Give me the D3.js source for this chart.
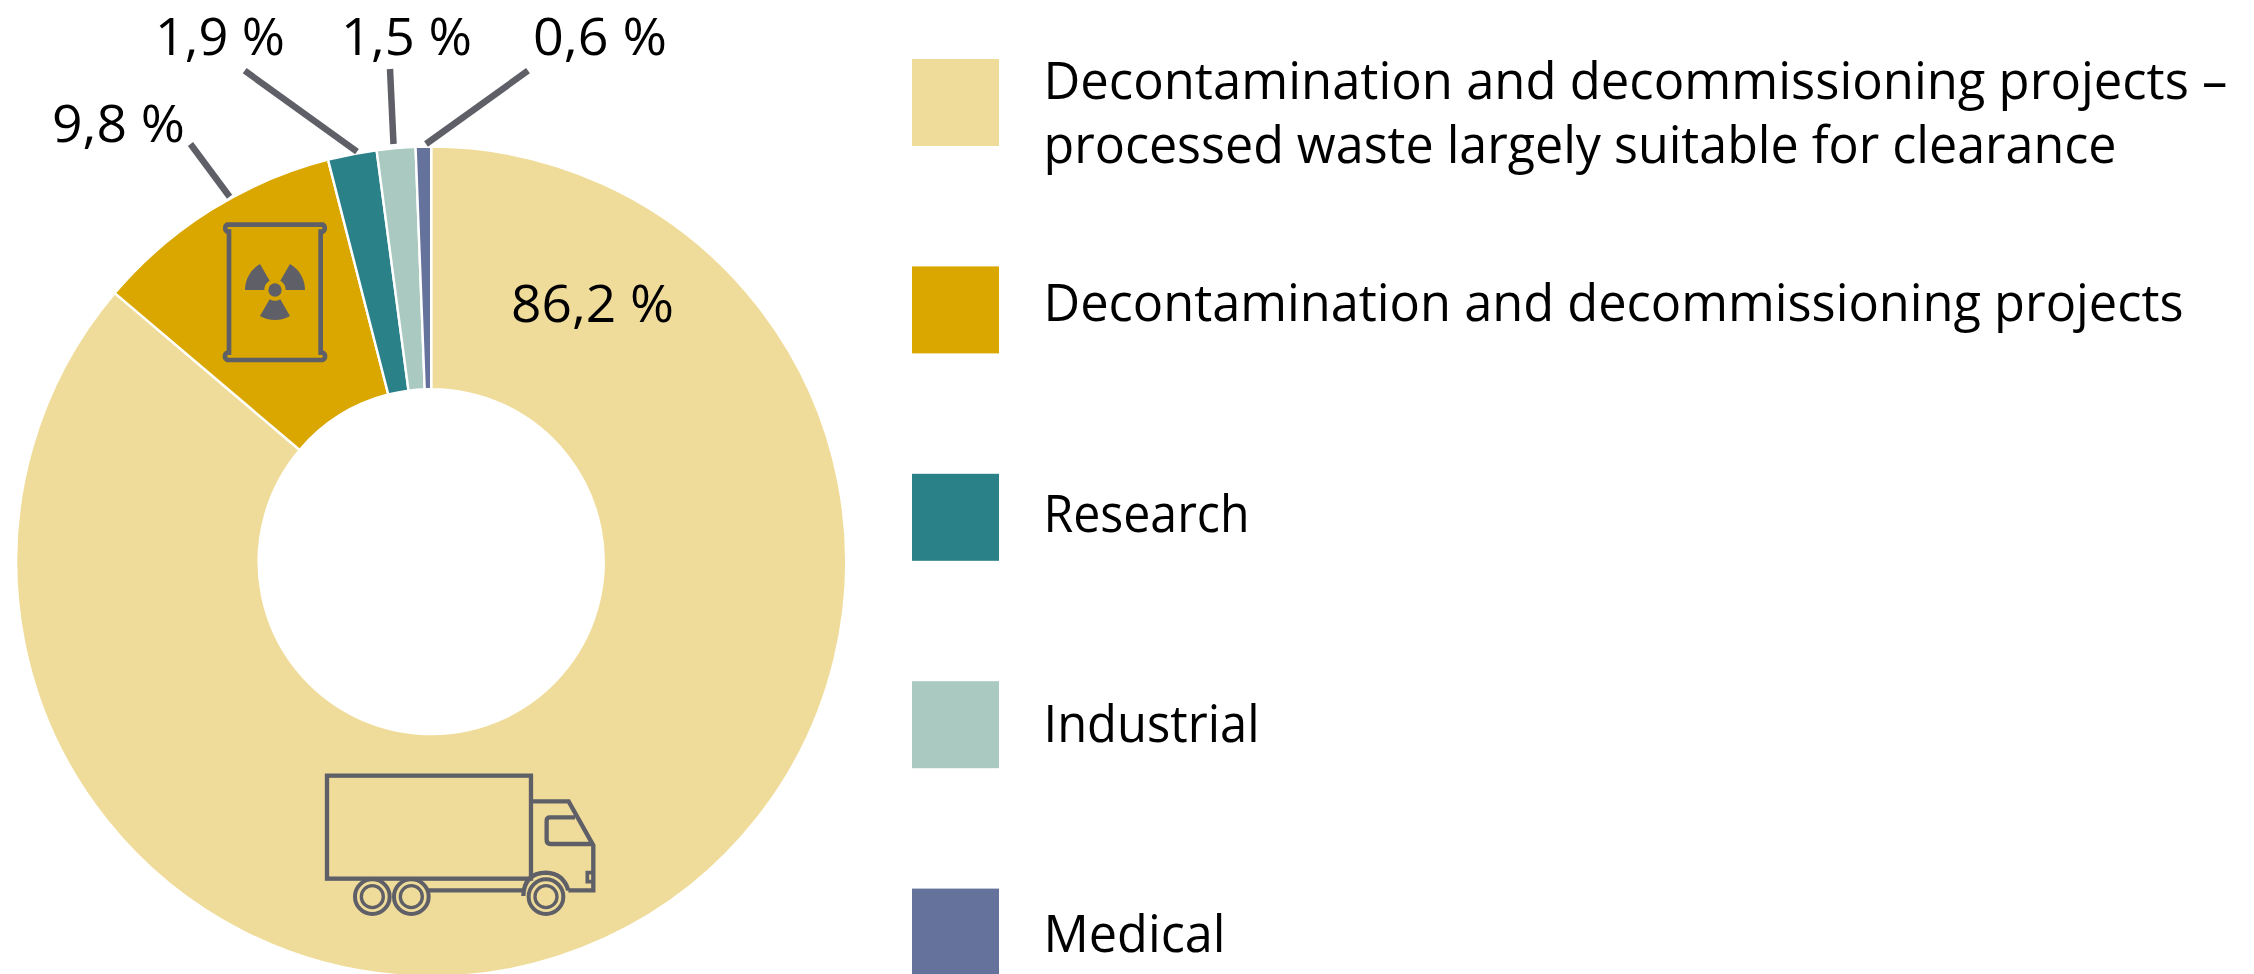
<!DOCTYPE html>
<html><head><meta charset="utf-8">
<script src="https://cdn.jsdelivr.net/npm/d3@7"></script>
<style>html,body{margin:0;padding:0;background:#fff;overflow:hidden}svg{display:block}text{font-family:"Open Sans",sans-serif;fill:#000}</style>
</head><body><script>
const categories = ["Decontamination and decommissioning projects – processed waste largely suitable for clearance","Decontamination and decommissioning projects","Research","Industrial","Medical"];
const legendLines = [["Decontamination and decommissioning projects –","processed waste largely suitable for clearance"],["Decontamination and decommissioning projects"],["Research"],["Industrial"],["Medical"]];
const values = [86.2, 9.8, 1.9, 1.5, 0.6];
const valueLabels = ["86,2 %","9,8 %","1,9 %","1,5 %","0,6 %"];
const colors = ["#F0DC9A","#D9A700","#2A8288","#A9C9C1","#64729C"];

const W=2254,H=974,cx=431.2,cy=561.6,R=415,r=172.5,gray="#5F5F67",FS=51,LFS=51;
const svg=d3.select("body").append("svg").attr("width",W).attr("height",H);
const pie=d3.pie().sort(null).value(d=>d)(values);
const arc=d3.arc().innerRadius(r).outerRadius(R);
const g=svg.append("g").attr("transform",`translate(${cx},${cy})`);
g.selectAll("path").data(pie).join("path").attr("d",arc).attr("fill",(d,i)=>colors[i]).attr("stroke","#fff").attr("stroke-width",2.4);

// value labels and leaders
const labelPos=[{x:511,y:322,w:163},{x:52,y:142,w:133},{x:155,y:55,w:130},{x:341,y:55,w:131},{x:533,y:55,w:134}];
const leaders=[null,[190.5,144,229.6,196.7],[244.7,70.7,357,151.7],[390,69,393.5,144],[528,70.7,426,144]];
svg.selectAll("line.leader").data(leaders.filter(Boolean)).join("line").attr("class","leader")
  .attr("x1",d=>d[0]).attr("y1",d=>d[1]).attr("x2",d=>d[2]).attr("y2",d=>d[3])
  .attr("stroke",gray).attr("stroke-width",6.5);
svg.selectAll("text.val").data(valueLabels).join("text").attr("class","val")
  .attr("x",(d,i)=>labelPos[i].x).attr("y",(d,i)=>labelPos[i].y).attr("font-size",FS)
  .attr("textLength",(d,i)=>labelPos[i].w).attr("lengthAdjust","spacingAndGlyphs").text(d=>d);

// legend
const legendTop=59,legendStep=207.4,sw=87;
const lg=svg.selectAll("g.lg").data(categories).join("g").attr("class","lg");
lg.append("rect").attr("x",912).attr("y",(d,i)=>legendTop+i*legendStep).attr("width",sw).attr("height",sw).attr("fill",(d,i)=>colors[i]);
const base=[99,321,532,742,952];
const lineW=[[1184,1073],[1140],[206],[216],[182]];
lg.each(function(d,i){
  d3.select(this).selectAll("text").data(legendLines[i]).join("text")
    .attr("x",1043.5).attr("y",(t,j)=>base[i]+j*64).attr("font-size",LFS)
    .attr("textLength",(t,j)=>lineW[i][j]).attr("lengthAdjust","spacingAndGlyphs").text(t=>t);
});

// truck icon
const t=svg.append("g").attr("transform","translate(300,740) scale(0.3333)").attr("fill","none").attr("stroke",gray).attr("stroke-width",13);
t.append("rect").attr("x",81).attr("y",107).attr("width",612).attr("height",309);
t.append("path").attr("d","M693,184H806L880,316V451H805M670,451H385M825,232H750Q740,232 740,242V300Q740,312 752,312H878");
t.append("path").attr("d","M670,468Q672,400 738,398Q790,400 805,451");
t.append("path").attr("stroke-width",11).attr("d","M880,398H862V425H880");
[217,334,738].forEach(x=>{
  t.append("circle").attr("cx",x).attr("cy",470).attr("r",52).attr("stroke-width",12);
  t.append("circle").attr("cx",x).attr("cy",470).attr("r",33).attr("stroke-width",10);
});

// barrel icon
const b=svg.append("g").attr("transform","translate(200,200) scale(0.3333)");
b.append("path").attr("fill","none").attr("stroke",gray).attr("stroke-width",14)
  .attr("d","M87,95H82A12,12 0 0 1 82,74H368A12,12 0 0 1 368,95H362V458H368A12,12 0 0 1 368,480H82A12,12 0 0 1 82,458H87ZM87,458V95");
const rad=b.append("g").attr("transform","translate(225,270)").attr("fill",gray);
const blade=d3.arc().innerRadius(32).outerRadius(90);
[[-90,-30],[30,90],[150,210]].forEach(a=>rad.append("path").attr("d",blade({startAngle:a[0]*Math.PI/180,endAngle:a[1]*Math.PI/180})));
rad.append("circle").attr("r",20);
</script></body></html>
